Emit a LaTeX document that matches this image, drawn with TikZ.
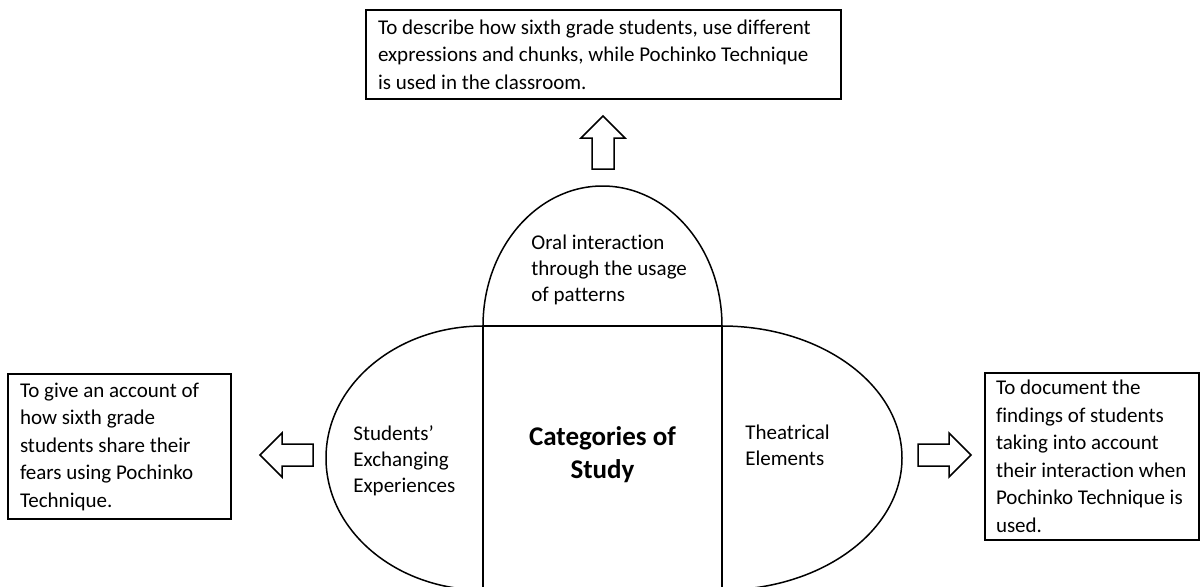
\documentclass[tikz,border=0pt]{standalone}
\usepackage{fontspec}
\setmainfont{Carlito}[Ligatures=NoCommon]

\begin{document}
\begin{tikzpicture}[x=0.5pt,y=0.5pt,
    goal/.style={draw=black,line width=0.9pt,align=flush left,inner xsep=6pt,inner ysep=0pt,
                 font=\fontsize{10.5}{13.75}\selectfont},
    part/.style={align=flush left,inner sep=0pt,font=\fontsize{10.5}{13}\selectfont},
    outline/.style={draw=black,line width=0.75pt},
    pics/blockarr/.style={code={
      \draw[outline,line join=miter] (0,11) -- (31,11) -- (31,22) -- (53,0)
        -- (31,-22) -- (31,-11) -- (0,-11) -- cycle;}}]

  \useasboundingbox (0,0) rectangle (1201,586);
  \clip (0,0) rectangle (1201,586);

  % central figure: dome, core and the two side lobes
  \draw[outline] (483,260) arc[start angle=180,end angle=0,x radius=119.5,y radius=140];
  \draw[outline] (483,-4) rectangle (722,260);
  \draw[outline] (483,260) arc[start angle=90,end angle=270,x radius=157,y radius=132];
  \draw[outline] (722,260) arc[start angle=90,end angle=-90,x radius=180,y radius=132];

  \node[part,anchor=north west] (oral) at (531,351) {Oral interaction\\through the usage\\of patterns};
  \node[part,anchor=north west] (exch) at (353,161) {Students’\\Exchanging\\Experiences};
  \node[part,anchor=north west] (theat) at (745,161) {Theatrical\\Elements};
  \node[anchor=north,align=center,inner sep=0pt,
        font=\fontsize{13.5}{16.8}\selectfont\bfseries] (cat) at (602.5,160) {Categories of\\Study};

  % objectives
  \node[goal,text width=225.5pt,minimum height=44.5pt] (topGoal) at (603.5,531.5)
    {To describe how sixth grade students, use different\\expressions and chunks, while Pochinko Technique\\is used in the classroom.};
  \node[goal,text width=99.5pt,minimum height=72.5pt] (leftGoal) at (119.5,139.5)
    {To give an account of\\how sixth grade\\students share their\\fears using Pochinko\\Technique.};
  \node[goal,text width=96pt,inner xsep=5.5pt,minimum height=83.5pt] (rightGoal) at (1092,129.5)
    {To document the\\findings of students\\taking into account\\their~interaction~when\\Pochinko~Technique~is\\used.};

  % hollow arrows
  \pic[rotate=90]  at (603,417) {blockarr};
  \pic[rotate=180] at (313,131) {blockarr};
  \pic             at (918,131) {blockarr};
\end{tikzpicture}
\end{document}
